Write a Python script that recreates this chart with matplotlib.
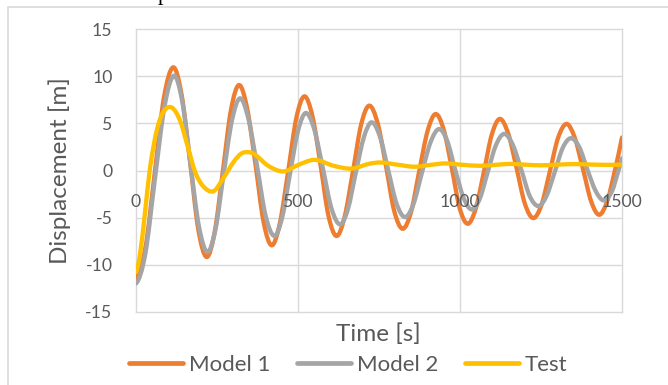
import matplotlib
matplotlib.use("Agg")
import matplotlib.pyplot as plt
import matplotlib.transforms as mtransforms
import numpy as np
from matplotlib.path import Path
from matplotlib.patches import PathPatch, Rectangle
from matplotlib.lines import Line2D

# values (time in s, displacement in m)
t_model1 = [0, 29, 58, 86, 115, 141, 167, 192, 218, 243, 268, 293, 318, 343, 369, 394,
            419, 444, 470, 495, 520, 545, 570, 594, 619, 644, 670, 695, 720, 746, 772, 797,
            823, 849, 874, 900, 925, 950, 975, 999, 1024, 1049, 1074, 1098, 1123, 1149, 1175, 1200,
            1226, 1252, 1278, 1303, 1329, 1354, 1380, 1405, 1430, 1455, 1478, 1500]
y_model1 = [-11.45, -8.2, -0.2, 7.7, 10.96, 8.0, 0.9, -6.2, -9.19, -6.5, -0.1, 6.4, 9.08, 6.6, 0.6, -5.5,
            -7.95, -5.6, 0.0, 5.6, 7.88, 5.7, 0.5, -4.8, -6.96, -4.9, 0.0, 4.9, 6.89, 5.0, 0.4, -4.3,
            -6.19, -4.4, -0.1, 4.2, 6.0, 4.3, 0.2, -4.0, -5.66, -4.0, -0.1, 3.8, 5.48, 3.9, 0.2, -3.5,
            -5.05, -3.6, 0.0, 3.5, 4.95, 3.5, 0.1, -3.3, -4.7, -3.2, 0.0, 3.5]

t_model2 = [0, 29, 58, 88, 117, 143, 168, 194, 220, 245, 270, 296, 321, 347, 374, 400,
            427, 451, 475, 500, 524, 550, 577, 603, 630, 654, 678, 703, 727, 753, 778, 804,
            830, 856, 882, 909, 935, 960, 985, 1011, 1036, 1061, 1086, 1111, 1136, 1162, 1189, 1215,
            1242, 1267, 1292, 1317, 1342, 1368, 1393, 1419, 1444, 1469, 1489, 1500]
y_model2 = [-12.0, -8.8, -1.0, 6.8, 10.07, 7.3, 0.7, -5.9, -8.66, -6.3, -0.5, 5.3, 7.67, 5.5, 0.4, -4.8,
            -6.96, -5.0, -0.4, 4.2, 6.11, 4.4, 0.2, -4.0, -5.73, -4.1, -0.3, 3.5, 5.12, 3.6, 0.1, -3.5,
            -4.95, -3.6, -0.3, 3.0, 4.4, 3.2, 0.1, -2.9, -4.14, -3.0, -0.1, 2.7, 3.89, 2.8, 0.1, -2.7,
            -3.78, -2.7, -0.2, 2.4, 3.43, 2.5, 0.1, -2.2, -3.18, -2.2, 0.0, 1.3]

t_test = [0, 12, 28, 43, 63, 84, 110, 136, 160, 183, 208, 239, 270, 301, 325, 347, 367,
          408, 455, 501, 552, 610, 666, 718, 756, 810, 861, 910, 954, 1010, 1062, 1110, 1154,
          1200, 1250, 1300, 1350, 1400, 1450, 1500]
y_test = [-10.8, -9.0, -4.4, 0.2, 4.1, 6.2, 6.7, 5.3, 2.5, -0.2, -1.7, -2.2, -0.8, 0.9, 1.8, 1.95, 1.7,
          0.5, -0.1, 0.6, 1.13, 0.5, 0.2, 0.7, 0.85, 0.6, 0.4, 0.6, 0.75, 0.6, 0.5, 0.6, 0.7,
          0.62, 0.55, 0.62, 0.68, 0.64, 0.6, 0.62]

names = ["Model 1", "Model 2", "Test"]
colors = ["#ED7D31", "#A5A5A5", "#FFC000"]
series = [(t_model1, y_model1), (t_model2, y_model2), (t_test, y_test)]
x_ticks = [0, 500, 1000, 1500]

txt = "#595959"
grid_c = "#D9D9D9"
plt.rcParams['font.family'] = ['Lato', 'DejaVu Sans']
plt.rcParams['axes.unicode_minus'] = False


def smooth_path(t, y):
    # Excel-like "smoothed line": cubic bezier through the points
    t = np.asarray(t, float)
    y = np.asarray(y, float)
    m = np.empty_like(y)
    m[1:-1] = (y[2:] - y[:-2]) / (t[2:] - t[:-2])
    m[0] = 2 * (y[1] - y[0]) / (t[1] - t[0]) - m[1]
    m[-1] = 2 * (y[-1] - y[-2]) / (t[-1] - t[-2]) - m[-2]
    verts = [(t[0], y[0])]
    codes = [Path.MOVETO]
    for i in range(len(t) - 1):
        d = (t[i + 1] - t[i]) / 3
        verts += [(t[i] + d, y[i] + m[i] * d), (t[i + 1] - d, y[i + 1] - m[i + 1] * d), (t[i + 1], y[i + 1])]
        codes += [Path.CURVE4] * 3
    return Path(verts, codes)


fig = plt.figure(figsize=(6.68, 3.85), dpi=100)
ax = fig.add_axes([136 / 668, 1 - 311.7 / 385, 486 / 668, 282.4 / 385])

for (t, y), c, z in zip(series, colors, [3, 4, 5]):
    ax.add_patch(PathPatch(smooth_path(t, y), facecolor='none', edgecolor=c, lw=3.1,
                           capstyle='round', joinstyle='round', zorder=z))

ax.set_xlim(0, 1500)
ax.set_ylim(-15, 15)
ax.set_xticks(x_ticks)
ax.set_yticks(np.arange(-15, 16, 5))
ax.grid(True, color=grid_c, lw=1)
ax.set_axisbelow(True)
for ln in ax.get_xgridlines() + ax.get_ygridlines():
    ln.set_clip_on(False)
for s in ax.spines.values():
    s.set_visible(False)
ax.tick_params(length=0, labelsize=12.7, labelcolor=txt)
ax.tick_params(axis='y', pad=17)
ax.tick_params(axis='x', labelbottom=False)

# horizontal axis crosses at 0, its labels sit on top of the curves
off = ax.transData + mtransforms.ScaledTranslation(0, -17 / 72, fig.dpi_scale_trans)
for v in x_ticks:
    ax.text(v, 0, str(v), transform=off, ha='center', va='top', fontsize=12.7, color=txt,
            zorder=10, clip_on=False)

fig.text(60 / 668, 1 - 170.5 / 385, "Displacement [m]", rotation=90, ha='center', va='center',
         fontsize=17.5, color=txt)
fig.text(378.7 / 668, 1 - 341.5 / 385, "Time [s]", ha='center', va='baseline', fontsize=17.5, color=txt)

handles = [Line2D([], [], color=c, lw=3.4, solid_capstyle='round') for c in colors]
leg = fig.legend(handles, names, loc='center', bbox_to_anchor=(348 / 668, 1 - 365 / 385), ncol=3,
                 frameon=False, fontsize=16, handlelength=2.45, handletextpad=0.25, columnspacing=1.2,
                 borderpad=0)
for tx in leg.get_texts():
    tx.set_color(txt)

# chart frame and the clipped caption text above it
fig.add_artist(Rectangle((8 / 668, -0.1), 1.2, 1.1 - 7 / 385, fill=False, edgecolor=grid_c, lw=1.2,
                         transform=fig.transFigure))
fig.text(158 / 668, 1.0, "p", ha='left', va='baseline', fontsize=16, color='black', family='Liberation Serif')

fig.savefig("out.png", dpi=100)
